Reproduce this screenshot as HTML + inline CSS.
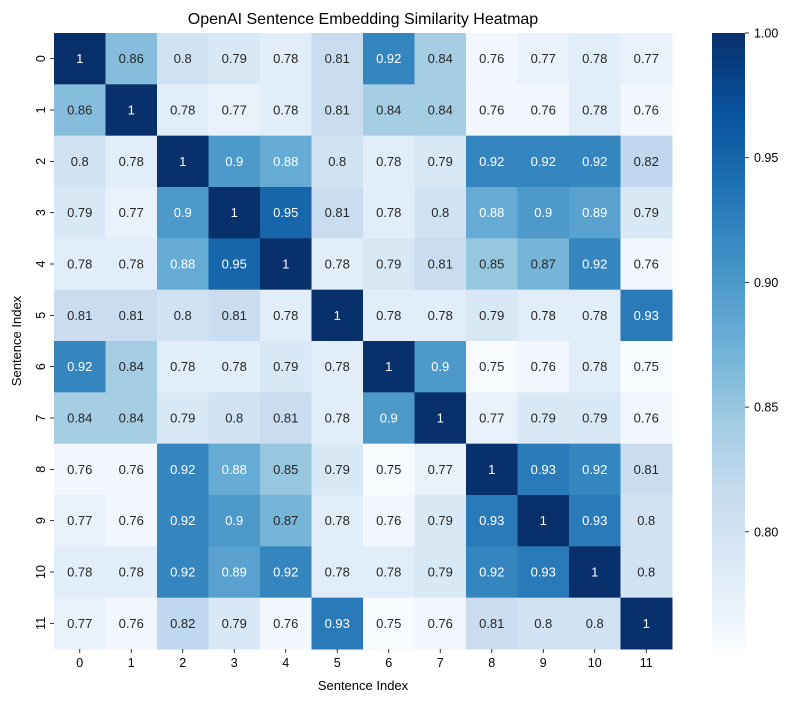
<!DOCTYPE html>
<html><head><meta charset="utf-8"><style>
html,body{margin:0;padding:0;background:#fff;}
svg{display:block;font-family:"Liberation Sans","DejaVu Sans",sans-serif;}
</style></head><body>
<svg id="chart" width="793" height="701">
<text x="363" y="24" text-anchor="middle" font-size="16" fill="#000">OpenAI Sentence Embedding Similarity Heatmap</text>
<text x="363" y="690" text-anchor="middle" font-size="13" fill="#000">Sentence Index</text>
<text transform="translate(21,341) rotate(-90)" text-anchor="middle" font-size="13" fill="#000">Sentence Index</text>
<g id="cells"></g>
<g id="xticks"></g>
<g id="yticks"></g>
<g id="cbar"></g>
</svg>
<script>
const labels = ["0","1","2","3","4","5","6","7","8","9","10","11"];
const row0 = [1,.86,.8,.79,.78,.81,.92,.84,.76,.77,.78,.77];
const row1 = [.86,1,.78,.77,.78,.81,.84,.84,.76,.76,.78,.76];
const row2 = [.8,.78,1,.9,.88,.8,.78,.79,.92,.92,.92,.82];
const row3 = [.79,.77,.9,1,.95,.81,.78,.8,.88,.9,.89,.79];
const row4 = [.78,.78,.88,.95,1,.78,.79,.81,.85,.87,.92,.76];
const row5 = [.81,.81,.8,.81,.78,1,.78,.78,.79,.78,.78,.93];
const row6 = [.92,.84,.78,.78,.79,.78,1,.9,.75,.76,.78,.75];
const row7 = [.84,.84,.79,.8,.81,.78,.9,1,.77,.79,.79,.76];
const row8 = [.76,.76,.92,.88,.85,.79,.75,.77,1,.93,.92,.81];
const row9 = [.77,.76,.92,.9,.87,.78,.76,.79,.93,1,.93,.8];
const row10 = [.78,.78,.92,.89,.92,.78,.78,.79,.92,.93,1,.8];
const row11 = [.77,.76,.82,.79,.76,.93,.75,.76,.81,.8,.8,1];
const matrix = [row0,row1,row2,row3,row4,row5,row6,row7,row8,row9,row10,row11];
const cbarTicks = [0.80,0.85,0.90,0.95,1.00];
const vmin = 0.753, vmax = 1.0;

const NS="http://www.w3.org/2000/svg";
const X0=54, Y0=33, W=618, H=616;
const cw=W/labels.length, ch=H/labels.length;
const xPos=i=>X0+i*cw, yPos=i=>Y0+i*ch;
const stops=["#f7fbff","#deebf7","#c6dbef","#9ecae1","#6baed6","#4292c6","#2171b5","#08519c","#08306b"].map(h=>[parseInt(h.slice(1,3),16),parseInt(h.slice(3,5),16),parseInt(h.slice(5,7),16)]);
function cmap(v){let t=Math.max(0,Math.min(1,(v-vmin)/(vmax-vmin)))*8;let i=Math.min(7,Math.floor(t)),f=t-i;
 return stops[i].map((c,k)=>Math.round(c+(stops[i+1][k]-c)*f));}
function lum(c){const l=c.map(x=>{x/=255;return x<=0.03928?x/12.92:Math.pow((x+0.055)/1.055,2.4)});return .2126*l[0]+.7152*l[1]+.0722*l[2];}
function mk(tag,attrs,parent){const e=document.createElementNS(NS,tag);for(const k in attrs)e.setAttribute(k,attrs[k]);parent.appendChild(e);return e;}
function fmt(v){return String(+v.toFixed(2));}

const cells=document.getElementById('cells');
matrix.forEach((row,r)=>row.forEach((v,c)=>{
 const col=cmap(v);
 const rect=mk('rect',{x:xPos(c),y:yPos(r),width:cw+0.5,height:ch+0.5,fill:`rgb(${col})`},cells);
 
 
 const t=mk('text',{x:xPos(c)+cw/2,y:yPos(r)+ch/2+4.5,'text-anchor':'middle','font-size':13,fill:lum(col)<0.408?'#fff':'#262626'},cells);
 
 
 t.textContent=fmt(v);
}));
const xt=document.getElementById('xticks'), yt=document.getElementById('yticks');
labels.forEach((l,i)=>{
 const cx=xPos(i)+cw/2;
 mk('line',{x1:cx,x2:cx,y1:Y0+H,y2:Y0+H+4,stroke:'#000','stroke-width':0.8},xt);
 const t=mk('text',{x:cx,y:Y0+H+18,'text-anchor':'middle','font-size':12.5},xt);
 
 
 t.textContent=l;
 const cy=yPos(i)+ch/2;
 mk('line',{x1:X0-4,x2:X0,y1:cy,y2:cy,stroke:'#000','stroke-width':0.8},yt);
 const u=mk('text',{transform:`translate(${X0-9},${cy}) rotate(-90)`,'text-anchor':'middle','font-size':12.5},yt);
 
 
 u.textContent=l;
});
const cb=document.getElementById('cbar');
const CX=712,CW=33,CY0=33,CH=616;
const cbY=v=>CY0+CH*(vmax-v)/(vmax-vmin);
const defs=mk('defs',{},cb);
const g=mk('linearGradient',{id:'cg',x1:0,y1:1,x2:0,y2:0},defs);
stops.forEach((s,i)=>mk('stop',{offset:i/8,'stop-color':`rgb(${s})`},g));
const cr=mk('rect',{x:CX,y:CY0,width:CW,height:CH,fill:'url(#cg)'},cb);


cbarTicks.forEach(v=>{
 const y=cbY(v);
 mk('line',{x1:CX+CW,x2:CX+CW+4,y1:y,y2:y,stroke:'#000','stroke-width':0.8},cb);
 const t=mk('text',{x:CX+CW+9,y:y+4.5,'font-size':12.5},cb);
 
 
 t.textContent=v.toFixed(2);
});
</script>
</body></html>
